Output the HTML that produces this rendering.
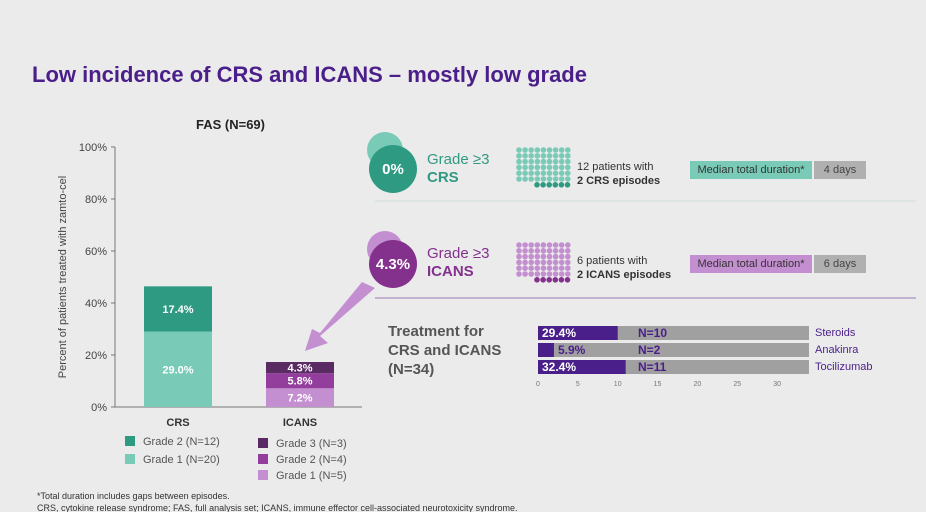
<!DOCTYPE html>
<html><head><meta charset="utf-8">
<style>
body{margin:0;width:926px;height:518px;background:#ebebeb;font-family:"Liberation Sans",sans-serif;position:relative;overflow:hidden}
.a{position:absolute;white-space:nowrap}
</style></head><body>
<div class="a" style="left:32px;top:62px;font-size:22px;font-weight:bold;color:#4b1f8a">Low incidence of CRS and ICANS – mostly low grade</div>
<div class="a" style="left:196px;top:117px;font-size:13px;font-weight:bold;color:#222">FAS (N=69)</div>
<svg class="a" style="left:0;top:0" width="926" height="518">
<g id="bars"></g>
<polygon points="362,282 375,288 320,336 328,343 305,351 312,329 320,333" fill="#c48fd0"/>
<line x1="375" y1="201" x2="916" y2="201" stroke="#cdd" stroke-width="1"/>
<line x1="375" y1="298" x2="916" y2="298" stroke="#9b7ab8" stroke-width="1"/>
<circle cx="385" cy="150" r="18" fill="#79cbb8"/><circle cx="393" cy="169" r="24" fill="#2f9a82"/>
<text x="393" y="174" fill="#fff" font-size="15" font-weight="bold" text-anchor="middle">0%</text>
<circle cx="385" cy="249" r="18" fill="#c48fd0"/><circle cx="393" cy="264" r="24" fill="#84318d"/>
<text x="393" y="269" fill="#fff" font-size="15" font-weight="bold" text-anchor="middle">4.3%</text>
<g id="dots"></g><g id="tx"></g>
</svg>
<div class="a" style="left:427px;top:151px;font-size:15px;color:#2f9a82;line-height:18px">Grade ≥3<br><b>CRS</b></div>
<div class="a" style="left:427px;top:245px;font-size:15px;color:#84318d;line-height:18px">Grade ≥3<br><b>ICANS</b></div>
<div class="a" style="left:577px;top:160px;font-size:11px;color:#333;line-height:14px">12 patients with<br><b>2 CRS episodes</b></div>
<div class="a" style="left:577px;top:254px;font-size:11px;color:#333;line-height:14px">6 patients with<br><b>2 ICANS episodes</b></div>
<div class="a" style="left:690px;top:161px;width:122px;height:18px;background:#79cbb8;font-size:11px;line-height:18px;text-align:center;color:#333">Median total duration*</div>
<div class="a" style="left:814px;top:161px;width:52px;height:18px;background:#b0b0b0;font-size:11px;line-height:18px;text-align:center;color:#444">4 days</div>
<div class="a" style="left:690px;top:255px;width:122px;height:18px;background:#c48fd0;font-size:11px;line-height:18px;text-align:center;color:#333">Median total duration*</div>
<div class="a" style="left:814px;top:255px;width:52px;height:18px;background:#b0b0b0;font-size:11px;line-height:18px;text-align:center;color:#444">6 days</div>
<div class="a" style="left:388px;top:322px;font-size:15px;font-weight:bold;color:#555;line-height:19px">Treatment for<br>CRS and ICANS<br>(N=34)</div>
<div class="a" style="left:37px;top:490px;font-size:9px;color:#333;line-height:12px">*Total duration includes gaps between episodes.<br>CRS, cytokine release syndrome; FAS, full analysis set; ICANS, immune effector cell-associated neurotoxicity syndrome.</div>
<div class="a" style="left:0;top:512px;width:926px;height:6px;background:#fff"></div>
<script>
const categories=["CRS","ICANS"];
const crsValues=[29.0,17.4];
const icansValues=[7.2,5.8,4.3];
const yTicks=[0,20,40,60,80,100];
const treatments=["Steroids","Anakinra","Tocilizumab"];
const treatN=[10,2,11];
const treatPct=["29.4%","5.9%","32.4%"];
const xTicks=[0,5,10,15,20,25,30];
const NS="http://www.w3.org/2000/svg";
const g=document.getElementById('bars'),tx=document.getElementById('tx'),dg=document.getElementById('dots');
function mk(p,t,a,txt){const e=document.createElementNS(NS,t);for(const k in a)e.setAttribute(k,a[k]);if(txt!==undefined)e.textContent=txt;p.appendChild(e);return e;}
const y=v=>407-v*2.6;
const bx=[144,266],bw=68;
yTicks.forEach(t=>{
const l=mk(g,'line',{x1:111,x2:115,y1:y(t),y2:y(t),stroke:'#777'});


const s=mk(g,'text',{x:107,y:y(t)+4,'font-size':11,fill:'#444','text-anchor':'end'},t+'%');


});
mk(g,'line',{x1:115,x2:115,y1:y(100),y2:y(0),stroke:'#777'});
mk(g,'line',{x1:113,x2:362,y1:y(0),y2:y(0),stroke:'#777'});
const yt=mk(g,'text',{transform:'translate(66,277) rotate(-90)','font-size':11,fill:'#444','text-anchor':'middle'},'Percent of  patients treated with zamto-cel');


function stack(vals,cols,i,tcol){let c=0;vals.forEach((v,k)=>{
const r=mk(g,'rect',{x:bx[i],y:y(c+v),width:bw,height:v*2.6,fill:cols[k]});


const h=v*2.6;const t=mk(g,'text',{x:bx[i]+bw/2,y:y(c+v)+h/2+4,'font-size':11,'font-weight':'bold',fill:tcol,'text-anchor':'middle'},v.toFixed(1)+'%');


c+=v;});}
stack(crsValues,['#79cbb8','#2f9a82'],0,'#fff');
stack(icansValues,['#c48fd0','#933d9c','#5a2a63'],1,'#fff');
categories.forEach((c,i)=>{const t=mk(g,'text',{x:bx[i]+bw/2,y:426,'font-size':11,'font-weight':'bold',fill:'#333','text-anchor':'middle'},c);

});
const leg=[[125,441,'#2f9a82','Grade 2 (N=12)'],[125,459,'#79cbb8','Grade 1 (N=20)'],[258,443,'#5a2a63','Grade 3 (N=3)'],[258,459,'#933d9c','Grade 2 (N=4)'],[258,475,'#c48fd0','Grade 1 (N=5)']];
leg.forEach(l=>{const r=mk(g,'rect',{x:l[0],y:l[1]-5,width:10,height:10,fill:l[2]});


const t=mk(g,'text',{x:l[0]+18,y:l[1]+4,'font-size':11,fill:'#555'},l[3]);

});
[[150,'#79cbb8','#2f9a82'],[245,'#c48fd0','#84318d']].forEach(d=>{
for(let r=0;r<6;r++)for(let c=0;c<9;c++)mk(dg,'circle',{cx:519+c*6.1,cy:d[0]+r*5.8,r:2.8,fill:d[1]});
for(let c=0;c<6;c++)mk(dg,'circle',{cx:537+c*6.1,cy:d[0]+6*5.8,r:2.8,fill:d[2]});});
const xs=v=>538+v*7.97;
treatments.forEach((t,i)=>{const yy=326+i*17;
mk(tx,'rect',{x:xs(0),y:yy,width:xs(34)-xs(0),height:14,fill:'#a0a0a0'});
const b=mk(tx,'rect',{x:xs(0),y:yy,width:xs(treatN[i])-xs(0),height:14,fill:'#4a1f8a'});


const p=mk(tx,'text',{x:xs(i==1?2:0)+4,y:yy+11,'font-size':12,'font-weight':'bold',fill:i==1?'#4a1f8a':'#fff'},treatPct[i]);


const n=mk(tx,'text',{x:638,y:yy+11,'font-size':12,'font-weight':'bold',fill:'#4a1f8a'},'N='+treatN[i]);


const c=mk(tx,'text',{x:815,y:yy+10,'font-size':11,fill:'#4a1f8a'},t);

});
xTicks.forEach(v=>{const t=mk(tx,'text',{x:xs(v),y:386,'font-size':7,fill:'#777','text-anchor':'middle'},v);

});
</script>
</body></html>
